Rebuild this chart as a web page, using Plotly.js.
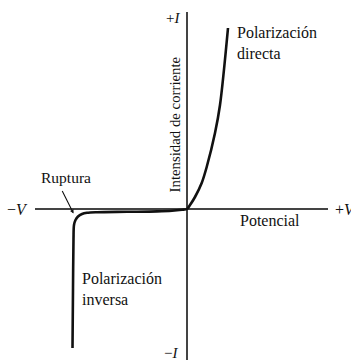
<!DOCTYPE html>
<html>
<head>
<meta charset="utf-8">
<script src="https://cdn.plot.ly/plotly-3.0.1.min.js"></script>
<style>html,body{margin:0;padding:0;background:#fff;}#chart{width:351px;height:360px;}</style>
</head>
<body>
<div id="chart"></div>
<script>
// Potential (arbitrary units) and current (arbitrary units)
const voltage = [-11.45, -11.4, -11.35, -11.3, -11.15, -10.9, -10.5, -10.0, -9.0, -6.0, -3.0, -1.5, -0.5, 0, 0.3, 0.8, 1.47, 1.97, 2.8, 3.3, 4.1];
const current = [-13.9, -8.0, -3.0, -1.6, -1.1, -0.75, -0.5, -0.38, -0.32, -0.28, -0.24, -0.18, -0.08, 0, 0.4, 1.2, 2.6, 4.2, 7.6, 10.4, 18.1];

const xRange = [-15.2, 14.1];
const yRange = [-15.1, 19.7];

const axisLabels = {xNeg: '\u2212<i>V</i>', xPos: '+<i>V</i>', yPos: '+<i>I</i>', yNeg: '\u2212<i>I</i>'};
const xTitle = 'Potencial';
const yTitle = 'Intensidad de corriente';
const forwardLabel = 'Polarización<br>directa';
const reverseLabel = 'Polarización<br>inversa';
const breakdownLabel = 'Ruptura';
const breakdownPoint = [-11.35, -0.45];

const serif = 'Liberation Serif, Times New Roman, serif';
const f = (s) => ({family: serif, size: s, color: '#111'});

const trace = {
  x: voltage, y: current, type: 'scatter', mode: 'lines',
  line: {color: '#111', width: 2.6, shape: 'spline', smoothing: 0.9},
  hoverinfo: 'skip'
};

const axisCommon = {showgrid: false, showticklabels: false, ticks: '', showline: false,
  zeroline: true, zerolinecolor: '#444', zerolinewidth: 1.5, fixedrange: true};

const layout = {
  width: 351, height: 360,
  margin: {l: 35, r: 23, t: 12, b: 0},
  paper_bgcolor: '#fff', plot_bgcolor: '#fff',
  showlegend: false,
  xaxis: Object.assign({range: xRange}, axisCommon),
  yaxis: Object.assign({range: yRange}, axisCommon),
  annotations: [
    {xref: 'paper', yref: 'y', x: 0, y: 0, xanchor: 'right', yanchor: 'middle', xshift: -5, text: axisLabels.xNeg, showarrow: false, font: f(16)},
    {xref: 'paper', yref: 'y', x: 1, y: 0, xanchor: 'left', yanchor: 'middle', xshift: 5, text: axisLabels.xPos, showarrow: false, font: f(16)},
    {xref: 'x', yref: 'paper', x: 0, y: 0.983, xanchor: 'right', yanchor: 'middle', xshift: -5, text: axisLabels.yPos, showarrow: false, font: f(15)},
    {xref: 'x', yref: 'paper', x: 0, y: 0.019, xanchor: 'right', yanchor: 'middle', xshift: -7, text: axisLabels.yNeg, showarrow: false, font: f(15)},
    {xref: 'x', yref: 'paper', x: -1.2, y: 0.677, xanchor: 'center', yanchor: 'middle', textangle: -90, text: yTitle, showarrow: false, font: f(14.8)},
    {xref: 'x', yref: 'y', x: 5.1, y: -1.1, xanchor: 'left', yanchor: 'middle', text: xTitle, showarrow: false, font: f(16)},
    {xref: 'x', yref: 'y', x: 4.8, y: 16.65, xanchor: 'left', yanchor: 'middle', text: forwardLabel, align: 'left', showarrow: false, font: f(16)},
    {xref: 'x', yref: 'y', x: -10.7, y: -8.0, xanchor: 'left', yanchor: 'middle', text: reverseLabel, align: 'left', showarrow: false, font: f(16)},
    {xref: 'x', yref: 'y', x: -12.1, y: 3.2, xanchor: 'center', yanchor: 'middle', text: breakdownLabel, showarrow: false, font: f(15.5)},
    {xref: 'x', yref: 'y', x: breakdownPoint[0], y: breakdownPoint[1], text: '', showarrow: true, ax: -12, ay: -24,
     arrowhead: 2, arrowsize: 0.7, arrowwidth: 1.1, arrowcolor: '#111', standoff: 0}
  ]
};

Plotly.newPlot('chart', [trace], layout, {staticPlot: true, displayModeBar: false});
</script>
</body>
</html>
